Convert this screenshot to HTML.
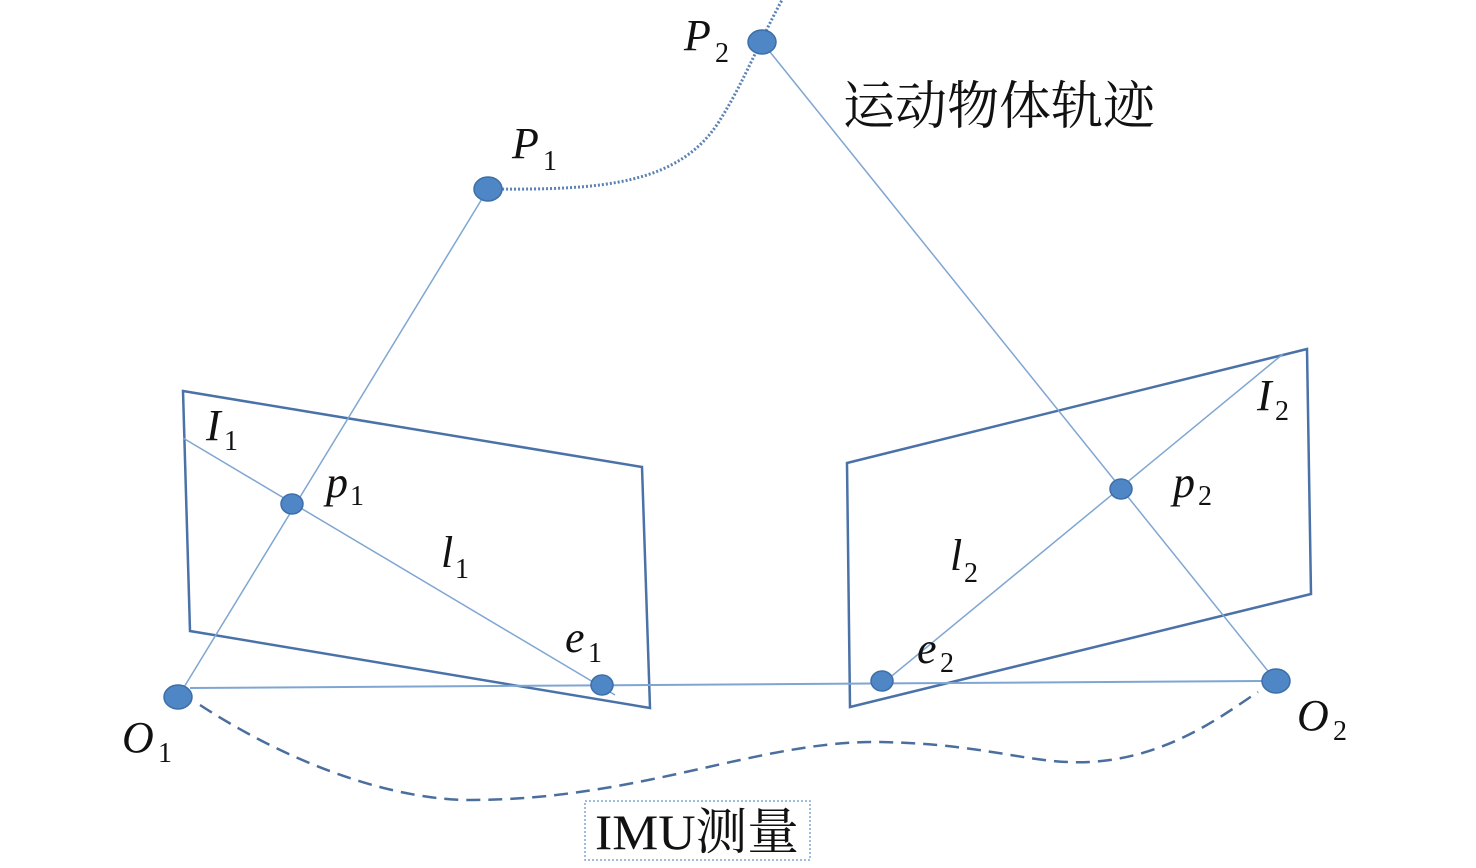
<!DOCTYPE html>
<html><head><meta charset="utf-8"><style>
html,body{margin:0;padding:0;background:#fff;}
svg{display:block}
.it{font-family:"Liberation Serif",serif;font-style:italic;font-size:44px;fill:#111}
.sub{font-family:"Liberation Serif",serif;font-style:normal;font-size:28px;fill:#111}
.cn{font-family:"Liberation Serif","Noto Serif CJK SC",serif;font-size:50px;fill:#111}
</style></head><body>
<svg width="1476" height="868" viewBox="0 0 1476 868" xmlns="http://www.w3.org/2000/svg">
<g fill="none" stroke="#4a72a8" stroke-width="2.5">
<polygon points="183,391 642,467 650,708 190,631"/>
<polygon points="847,463 1307,349 1311,594 850,707"/>
</g>
<g fill="none" stroke="#7fa6d2" stroke-width="1.5">
<line x1="488" y1="189" x2="178" y2="697"/>
<line x1="762" y1="42" x2="1276" y2="681"/>
<line x1="183" y1="438" x2="615" y2="695"/>
<line x1="882" y1="684" x2="1283" y2="354"/>
<line x1="190" y1="688" x2="1262" y2="681" stroke-width="2"/>
</g>
<path d="M494,189 C600,190 680,185 720,120 C745,80 760,40 782,0" fill="none" stroke="#5b82b5" stroke-width="3" stroke-dasharray="2,2"/>
<path d="M200,705 C300,770 400,800 470,800 C640,800 760,740 880,742 C1000,744 1040,770 1110,760 C1180,750 1230,710 1258,692" fill="none" stroke="#4a6e9e" stroke-width="2.5" stroke-dasharray="14,8"/>
<g fill="#4f86c6" stroke="#3d6ea8" stroke-width="1.5">
<ellipse cx="762" cy="42" rx="14" ry="12"/>
<ellipse cx="488" cy="189" rx="14" ry="12"/>
<ellipse cx="292" cy="504" rx="11" ry="10"/>
<ellipse cx="602" cy="685" rx="11" ry="10"/>
<ellipse cx="178" cy="697" rx="14" ry="12"/>
<ellipse cx="1121" cy="489" rx="11" ry="10"/>
<ellipse cx="882" cy="681" rx="11" ry="10"/>
<ellipse cx="1276" cy="681" rx="14" ry="12"/>
</g>
<rect x="585" y="801" width="225" height="59" fill="none" stroke="#7fa6d2" stroke-width="1.5" stroke-dasharray="2,2"/>
<text class="cn" x="595" y="849" textLength="204" lengthAdjust="spacingAndGlyphs">IMU测量</text>
<text class="cn" x="843" y="124" style="font-size:52px" textLength="312" lengthAdjust="spacingAndGlyphs">运动物体轨迹</text>
<text class="it" x="684" y="50">P</text><text class="sub" x="715" y="62">2</text>
<text class="it" x="512" y="158">P</text><text class="sub" x="543" y="170">1</text>
<text class="it" x="206" y="440">I</text><text class="sub" x="224" y="450">1</text>
<text class="it" x="326" y="497">p</text><text class="sub" x="350" y="505">1</text>
<text class="it" x="441" y="567">l</text><text class="sub" x="455" y="578">1</text>
<text class="it" x="565" y="652">e</text><text class="sub" x="588" y="662">1</text>
<text class="it" x="122" y="752">O</text><text class="sub" x="158" y="762">1</text>
<text class="it" x="1257" y="410">I</text><text class="sub" x="1275" y="420">2</text>
<text class="it" x="1173" y="497">p</text><text class="sub" x="1198" y="505">2</text>
<text class="it" x="950" y="570">l</text><text class="sub" x="964" y="582">2</text>
<text class="it" x="917" y="663">e</text><text class="sub" x="940" y="672">2</text>
<text class="it" x="1297" y="730">O</text><text class="sub" x="1333" y="740">2</text>
</svg>
</body></html>
